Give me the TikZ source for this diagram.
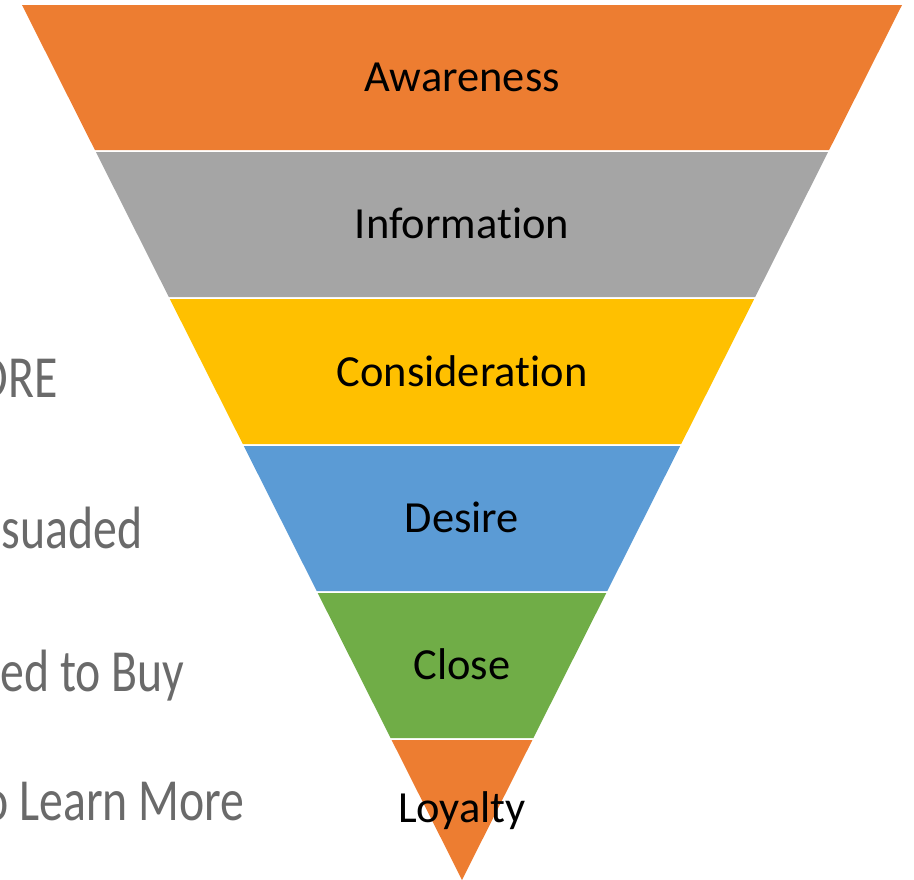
\documentclass[tikz,border=0pt]{standalone}
\usepackage{fontspec}
\setmainfont[Ligatures=CommonOff]{Carlito}
\newfontfamily\sidefont[FakeStretch=0.8,Ligatures=CommonOff]{Carlito}
\usepackage{tikz}
\usetikzlibrary{positioning}
\definecolor{funOrange}{HTML}{ED7D31}
\definecolor{funGray}{HTML}{A5A5A5}
\definecolor{funYellow}{HTML}{FFC000}
\definecolor{funBlue}{HTML}{5B9BD5}
\definecolor{funGreen}{HTML}{70AD47}
\definecolor{sideGray}{HTML}{6A6A6A}
\tikzset{
    x=0.02cm,
    y=-0.02cm,
    stage/.style = {
        shape=rectangle,
        inner sep=0pt,
        text=black,
        font=\fontsize{25.3}{30}\selectfont
    },
    sidetext/.style = {
        shape=rectangle,
        inner sep=0pt,
        anchor=base east,
        text=sideGray,
        font=\sidefont\fontsize{34}{40}\selectfont
    },
}

\begin{document}
\begin{tikzpicture}
            \useasboundingbox (0,0) rectangle (914,880);
            \clip (0,0) rectangle (914,880);

            % funnel bands
            \fill[funOrange] (22,5) -- (902,5) -- (829.1,150) -- (94.9,150) -- cycle;
            \fill[funGray] (95.9,152) -- (828.1,152) -- (755.2,297) -- (168.8,297) -- cycle;
            \fill[funYellow] (169.8,299) -- (754.2,299) -- (681.2,444) -- (242.8,444) -- cycle;
            \fill[funBlue] (243.8,446) -- (680.2,446) -- (607.3,591) -- (316.7,591) -- cycle;
            \fill[funGreen] (317.7,593) -- (606.3,593) -- (533.4,738) -- (390.6,738) -- cycle;
            \fill[funOrange] (391.6,740) -- (532.4,740) -- (462,880) -- cycle;

            % stage labels
            \node[stage] (awareness) at (462,77) {Awareness};
            \node[stage] (information) at (462,223) {Information};
            \node[stage] (consideration) at (462,371) {Consideration};
            \node[stage] (desire) at (462,517) {Desire};
            \node[stage] (close) at (462,664) {Close};
            \node[stage] (loyalty) at (462,811) {Loyalty};

            % cut-off text on the left
            \node[sidetext] (explore) at (58,397) {ORE};
            \node[sidetext] (persuaded) at (143,548) {suaded};
            \node[sidetext] (buy) at (185,691) {ed to Buy};
            \node[sidetext] (learn) at (245,820) {o Learn More};
        \end{tikzpicture}
\end{document}
